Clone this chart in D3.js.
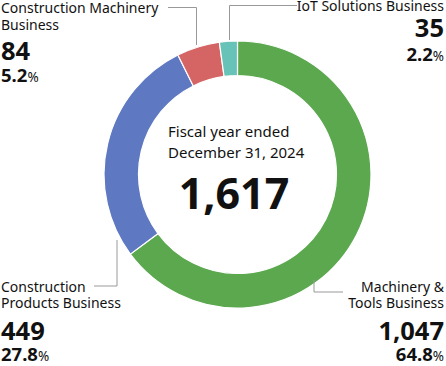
<!DOCTYPE html>
<html>
<head>
<meta charset="utf-8">
<script src="https://cdn.jsdelivr.net/npm/d3@7"></script>
<style>
  body { margin: 0; background: #fff; }
  text { font-family: "Noto Sans", "Open Sans", sans-serif; fill: #111; }
</style>
</head>
<body>
<div id="container"></div>
<script>
// segment data (clockwise from 12 o'clock)
const segments = ['Machinery & Tools Business', 'Construction Products Business', 'Construction Machinery Business', 'IoT Solutions Business'];
const values = [1047, 449, 84, 35];
const shares = [64.8, 27.8, 5.2, 2.2];
const colors = ['#5ba84f', '#5e78c2', '#d56565', '#67c3b8'];
const total = 1617;
const centerLines = ['Fiscal year ended', 'December 31, 2024'];

const width = 446;
const height = 366;
const cx = 237.5;
const cy = 174.5;
const outerR = 133.5;
const innerR = 99;

const svg = d3.select('#container')
              .append('svg')
              .attr('width', width)
              .attr('height', height);

const pie = d3.pie().sort(null).value(d => d)(values);
const arc = d3.arc().innerRadius(innerR).outerRadius(outerR);

const ring = svg.append('g').attr('transform', `translate(${cx},${cy})`);
ring.selectAll('path')
    .data(pie)
    .enter()
    .append('path')
    .attr('d', arc)
    .attr('fill', (d, i) => colors[i])
    .attr('stroke', '#fff')
    .attr('stroke-width', 1.2);

// leader lines
const lines = [
  [[314, 280], [314, 292], [343, 292]],
  [[117, 240], [117, 286], [94, 286]],
  [[168, 7.5], [196.5, 7.5], [196.5, 45]],
  [[297, 5.5], [229.5, 5.5], [229.5, 40]]
];
svg.selectAll('polyline')
   .data(lines)
   .enter()
   .append('polyline')
   .attr('points', d => d.map(p => p.join(',')).join(' '))
   .attr('fill', 'none')
   .attr('stroke', '#999')
   .attr('stroke-width', 1);

// labels
const labels = [
  { name: ['Machinery &', 'Tools Business'], x: 444, anchor: 'end', y: [292, 308, 340, 361] },
  { name: ['Construction', 'Products Business'], x: 1, anchor: 'start', y: [292, 308, 340, 361] },
  { name: ['Construction Machinery', 'Business'], x: 1, anchor: 'start', y: [13, 30, 60, 82] },
  { name: ['IoT Solutions Business'], x: 444, anchor: 'end', y: [11, null, 37, 61] }
];

labels.forEach((l, i) => {
  const g = svg.append('g').attr('text-anchor', l.anchor);
  l.name.forEach((s, j) => {
    g.append('text')
     .attr('x', l.x)
     .attr('y', l.y[j])
     .attr('font-size', 14)
     .text(s);
  });
  g.append('text')
   .attr('x', l.x)
   .attr('y', l.y[2])
   .attr('font-size', 25.5)
   .attr('font-weight', 700)
   .text(d3.format(',')(values[i]));
  const p = g.append('text')
   .attr('x', l.x)
   .attr('y', l.y[3])
   .attr('font-size', 18.5)
   .attr('font-weight', 700);
  p.append('tspan').text(shares[i].toFixed(1));
  p.append('tspan').attr('font-size', 13.5).attr('font-weight', 400).text('%');
});

// centre text
const c = svg.append('g');
centerLines.forEach((s, j) => {
  c.append('text')
   .attr('x', 168)
   .attr('y', 137 + j * 21)
   .attr('font-size', 15)
   .text(s);
});
c.append('text')
 .attr('x', 234)
 .attr('y', 209)
 .attr('text-anchor', 'middle')
 .attr('font-size', 43)
 .attr('font-weight', 700)
 .text(d3.format(',')(total));
</script>
</body>
</html>
